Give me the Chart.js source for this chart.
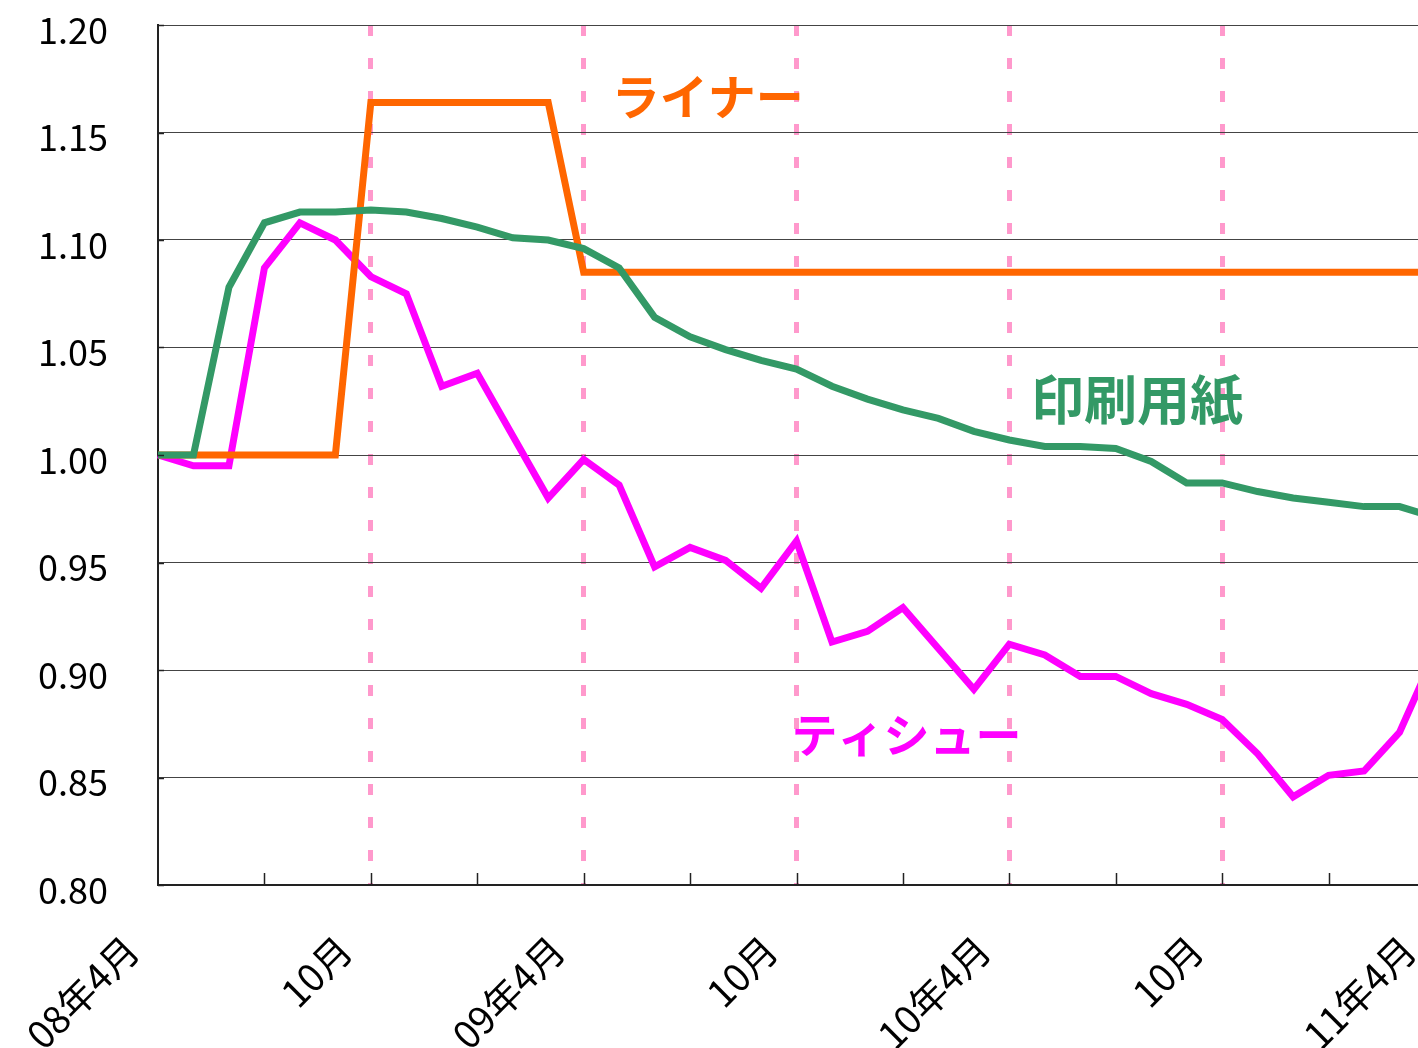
<!DOCTYPE html>
<html>
<head>
<meta charset="utf-8">
<script src="https://cdn.jsdelivr.net/npm/chart.js@4.4.1/dist/chart.umd.min.js"></script>
<style>
  html, body { margin: 0; padding: 0; background: #fff; overflow: hidden; }
  canvas { display: block; }
</style>
</head>
<body>
<canvas id="chart" width="1460" height="1048"></canvas>
<script>
// 月（08年4月〜11年4月）
const meses = [
  '2008-04','2008-05','2008-06','2008-07','2008-08','2008-09','2008-10','2008-11','2008-12',
  '2009-01','2009-02','2009-03','2009-04','2009-05','2009-06','2009-07','2009-08','2009-09',
  '2009-10','2009-11','2009-12','2010-01','2010-02','2010-03','2010-04','2010-05','2010-06',
  '2010-07','2010-08','2010-09','2010-10','2010-11','2010-12','2011-01','2011-02','2011-03',
  '2011-04'
];

// 6ヶ月ごとのラベル
const etiquetas = ['08年4月', '10月', '09年4月', '10月', '10年4月', '10月', '11年4月'];
const yTicks = [0.80, 0.85, 0.90, 0.95, 1.00, 1.05, 1.10, 1.15, 1.20];

const insatsu = [
  1.000, 1.000, 1.078, 1.108, 1.113, 1.113, 1.114, 1.113, 1.110, 1.106,
  1.101, 1.100, 1.096, 1.087, 1.064, 1.055, 1.049, 1.044, 1.040, 1.032,
  1.026, 1.021, 1.017, 1.011, 1.007, 1.004, 1.004, 1.003, 0.997, 0.987,
  0.987, 0.983, 0.980, 0.978, 0.976, 0.976, 0.971
];

const liner = [
  1.000, 1.000, 1.000, 1.000, 1.000, 1.000, 1.164, 1.164, 1.164, 1.164,
  1.164, 1.164, 1.085, 1.085, 1.085, 1.085, 1.085, 1.085, 1.085, 1.085,
  1.085, 1.085, 1.085, 1.085, 1.085, 1.085, 1.085, 1.085, 1.085, 1.085,
  1.085, 1.085, 1.085, 1.085, 1.085, 1.085, 1.085
];

const tissue = [
  1.000, 0.995, 0.995, 1.087, 1.108, 1.100, 1.083, 1.075, 1.032, 1.038,
  1.009, 0.980, 0.998, 0.986, 0.948, 0.957, 0.951, 0.938, 0.960, 0.913,
  0.918, 0.929, 0.910, 0.891, 0.912, 0.907, 0.897, 0.897, 0.889, 0.884,
  0.877, 0.861, 0.841, 0.851, 0.853, 0.871, 0.908
];

// 系列名の注記（x=月インデックス, y=値）
const notas = [
  { texto: 'ライナー', x: 15.5, y: 1.1665, color: '#FF6600', size: 48 },
  { texto: '印刷用紙', x: 27.6, y: 1.0256, color: '#339966', size: 53 },
  { texto: 'ティシュー', x: 21.1, y: 0.8698, color: '#FF00FF', size: 46 }
];

const FUENTE = "'Noto Sans CJK JP', 'Noto Sans', sans-serif";

// 目盛り線（内向き）と注記
const extras = {
  id: 'extras',
  afterDatasetsDraw(chart) {
    const { ctx, chartArea } = chart;
    const xs = chart.scales.x;
    const ys = chart.scales.y;
    ctx.save();
    ctx.strokeStyle = '#222';
    ctx.lineWidth = 1.5;
    for (let i = 3; i < meses.length; i += 3) {
      const px = Math.round(xs.getPixelForValue(i)) + 0.5;
      ctx.beginPath();
      ctx.moveTo(px, chartArea.bottom);
      ctx.lineTo(px, chartArea.bottom - 12);
      ctx.stroke();
    }
    yTicks.forEach(v => {
      const py = Math.round(ys.getPixelForValue(v)) + 0.5;
      ctx.beginPath();
      ctx.moveTo(chartArea.left, py);
      ctx.lineTo(chartArea.left + 6, py);
      ctx.stroke();
    });
    ctx.textAlign = 'center';
    ctx.textBaseline = 'middle';
    notas.forEach(n => {
      ctx.font = 'bold ' + n.size + 'px ' + FUENTE;
      ctx.fillStyle = n.color;
      ctx.fillText(n.texto, xs.getPixelForValue(n.x), ys.getPixelForValue(n.y));
    });
    ctx.restore();
  }
};

new Chart(document.getElementById('chart'), {
  type: 'line',
  data: {
    labels: meses,
    datasets: [
      { label: '印刷用紙', data: insatsu, borderColor: '#339966', borderWidth: 7, pointRadius: 0, tension: 0 },
      { label: 'ライナー', data: liner, borderColor: '#FF6600', borderWidth: 7, pointRadius: 0, tension: 0 },
      { label: 'ティシュー', data: tissue, borderColor: '#FF00FF', borderWidth: 7, pointRadius: 0, tension: 0 }
    ]
  },
  options: {
    responsive: false,
    devicePixelRatio: 1,
    animation: false,
    layout: { padding: { top: 25, right: 25, left: 0, bottom: 0 } },
    plugins: {
      legend: { display: false },
      tooltip: { enabled: false }
    },
    scales: {
      x: {
        type: 'category',
        offset: false,
        grid: {
          drawTicks: false,
          lineWidth: 5,
          color: c => (c.index % 6 === 0 && c.index > 0) ? '#FF99CC' : 'rgba(0,0,0,0)'
        },
        border: { display: true, color: '#222', width: 2, dash: [11, 22] },
        ticks: {
          autoSkip: false,
          maxRotation: 45,
          minRotation: 45,
          padding: 42,
          labelOffset: -26,
          color: '#000',
          font: { family: FUENTE, size: 38 },
          callback: (v, i) => (i % 6 === 0 ? etiquetas[i / 6] : '')
        },
        afterFit: s => {
          s.height = 163;
          s.paddingLeft = 0; s.paddingRight = 0; s.paddingTop = 0; s.paddingBottom = 0;
        }
      },
      y: {
        min: 0.80,
        max: 1.20,
        grid: { drawTicks: false, color: '#444', lineWidth: 1 },
        border: { display: true, color: '#222', width: 2 },
        afterBuildTicks: s => { s.ticks = yTicks.map(v => ({ value: v })); },
        ticks: {
          padding: 50,
          labelOffset: 5,
          color: '#000',
          font: { family: FUENTE, size: 36 },
          callback: v => v.toFixed(2)
        },
        afterFit: s => {
          s.width = 158;
          s.paddingLeft = 0; s.paddingRight = 0; s.paddingTop = 0; s.paddingBottom = 0;
        }
      }
    }
  },
  plugins: [extras]
});
</script>
</body>
</html>
